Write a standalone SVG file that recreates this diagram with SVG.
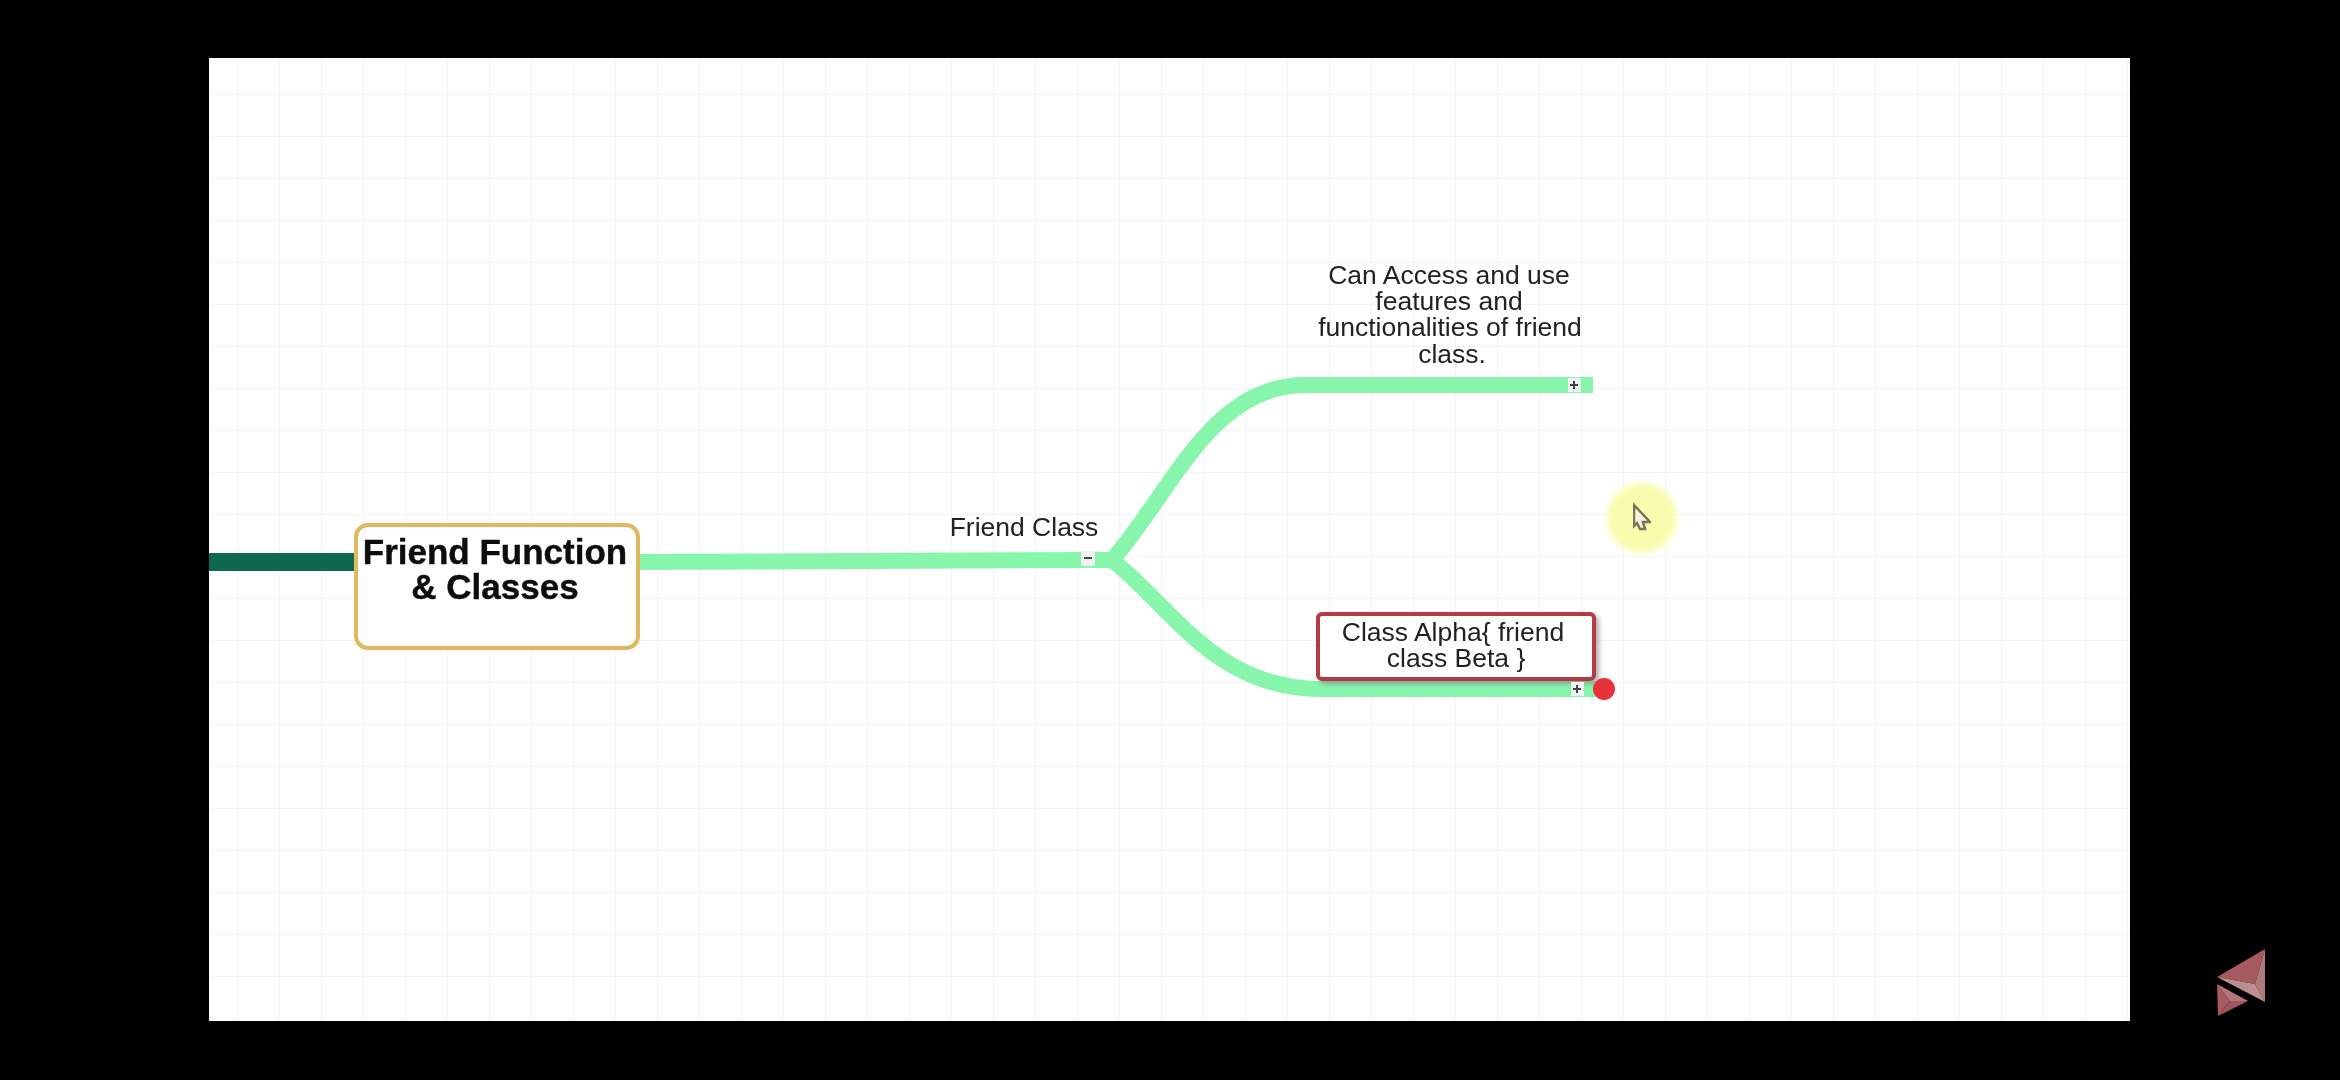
<svg xmlns="http://www.w3.org/2000/svg" width="2340" height="1080" viewBox="0 0 2340 1080">
<defs>
<pattern id="grid" x="196" y="53" width="42" height="42" patternUnits="userSpaceOnUse"><path d="M42 0V42M0 42H42" fill="none" stroke="#f4f4f4" stroke-width="2"/></pattern>
<filter id="soft" x="-5%" y="-5%" width="110%" height="110%"><feGaussianBlur stdDeviation="0.55"/></filter>
<filter id="blur2" x="-50%" y="-50%" width="200%" height="200%"><feGaussianBlur stdDeviation="3"/></filter>
<filter id="sh" x="-10%" y="-20%" width="125%" height="150%"><feDropShadow dx="3" dy="3" stdDeviation="2.5" flood-color="#777" flood-opacity="0.6"/></filter>
</defs>
<style>
text{font-family:"Liberation Sans",Arial,sans-serif;text-anchor:middle;fill:#222;font-size:26.5px}
.c{fill:none;stroke:#88f5ac;stroke-width:16}
.title{font-size:35px;font-weight:bold;fill:#0c0c0c;stroke:#0c0c0c;stroke-width:.4}
.btn{fill:#eef3ef}
.g{fill:#444}
</style>
<rect width="2340" height="1080" fill="#000"/>
<rect x="209" y="58" width="1921" height="963" fill="#fff"/>
<rect x="209" y="58" width="1921" height="963" fill="url(#grid)"/>
<g id="connectors" filter="url(#soft)">
<path d="M209 562H355" fill="none" stroke="#0b6a50" stroke-width="18"/>
<path class="c" d="M638 562L1090 560H1112"/>
<path class="c" d="M1112 560C1170 495 1210 385 1305 385H1593"/>
<path class="c" d="M1112 560C1170 605 1215 689 1320 689H1596"/>
</g>
<g id="node-main" filter="url(#soft)">
<rect x="356" y="525" width="282" height="123" rx="12" fill="#fff" stroke="#e0b85f" stroke-width="4"/>
<text class="title" x="495" y="564">Friend Function</text>
<text class="title" x="495" y="599">&amp; Classes</text>
</g>
<g id="node-friend-class" filter="url(#soft)">
<text x="1024" y="536">Friend Class</text>
<rect class="btn" x="1081" y="551" width="14" height="15"/>
<rect class="g" x="1084" y="557" width="8" height="2"/>
</g>
<g id="node-access" filter="url(#soft)">
<text x="1449" y="284">Can Access and use</text>
<text x="1449" y="310">features and</text>
<text x="1450" y="336">functionalities of friend</text>
<text x="1452" y="363">class.</text>
<rect class="btn" x="1568" y="378" width="13" height="14"/>
<path class="g" d="M1573 384h-3v2h3v3h2v-3h3v-2h-3v-3h-2z"/>
</g>
<g id="node-alpha" filter="url(#soft)">
<rect x="1318" y="614" width="276" height="65" rx="4" fill="#fff" stroke="#b23a44" stroke-width="4" filter="url(#sh)"/>
<text x="1453" y="641">Class Alpha{ friend</text>
<text x="1456" y="667">class Beta }</text>
<rect class="btn" x="1571" y="682" width="13" height="14"/>
<path class="g" d="M1576 688h-3v2h3v3h2v-3h3v-2h-3v-3h-2z"/>
<circle cx="1604" cy="689" r="11" fill="#e8313a"/>
</g>
<g id="cursor">
<circle cx="1642" cy="518" r="35" fill="#fbfbae" filter="url(#blur2)"/>
<path d="M1634 505L1650 522L1643 522L1645 529L1640 529L1637 523L1634 526Z" fill="#f4f4e0" stroke="#77775a" stroke-width="2.5" filter="url(#soft)"/>
</g>
<g id="logo">
<path d="M2265 949L2217 977L2255 984Z" fill="#a55a60"/>
<path d="M2265 949L2255 984L2265 1002Z" fill="#b07a7e"/>
<path d="M2217 977L2255 984L2265 1002Z" fill="#bd8f92"/>
<path d="M2217 984L2230 1001L2218 1016Z" fill="#a85a60"/>
<path d="M2217 984L2248 1001L2230 1001Z" fill="#b5767a"/>
<path d="M2230 1001L2248 1001L2218 1016Z" fill="#a0565c"/>
</g>
</svg>
